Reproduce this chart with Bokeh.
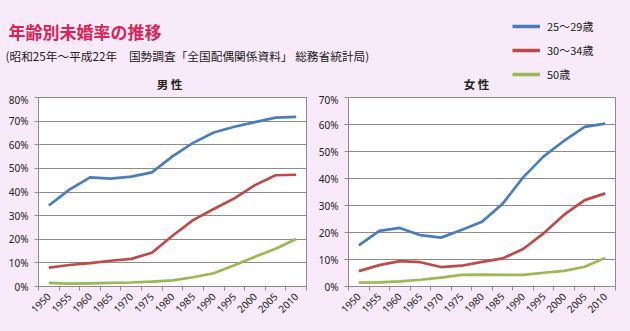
from bokeh.plotting import figure
from bokeh.models import (Range1d, FixedTicker, NumeralTickFormatter, Label,
                          Legend, LegendItem, ColumnDataSource)
from bokeh.layouts import column, row
from bokeh.embed import file_html
from bokeh.resources import INLINE
import math

# ---------------- data ----------------
years = [1950, 1955, 1960, 1965, 1970, 1975, 1980, 1985, 1990, 1995, 2000, 2005, 2010]
series_labels = ["25～29歳", "30～34歳", "50歳"]

male_25_29 = [34.3, 41.0, 46.2, 45.7, 46.5, 48.3, 55.1, 60.8, 65.2, 67.6, 69.6, 71.5, 71.8]
male_30_34 = [8.0, 9.1, 9.9, 10.9, 11.7, 14.3, 21.5, 28.1, 32.8, 37.3, 42.9, 47.1, 47.3]
male_50 = [1.5, 1.2, 1.3, 1.5, 1.7, 2.1, 2.6, 3.9, 5.6, 9.0, 12.6, 16.0, 20.1]

female_25_29 = [15.2, 20.6, 21.7, 19.0, 18.1, 20.9, 24.0, 30.6, 40.4, 48.2, 54.0, 59.1, 60.3]
female_30_34 = [5.7, 7.9, 9.4, 9.0, 7.2, 7.7, 9.1, 10.4, 13.9, 19.7, 26.6, 32.0, 34.5]
female_50 = [1.4, 1.5, 1.9, 2.5, 3.3, 4.3, 4.4, 4.3, 4.3, 5.1, 5.8, 7.3, 10.6]

male_yticks = [0, 0.1, 0.2, 0.3, 0.4, 0.5, 0.6, 0.7, 0.8]
female_yticks = [0, 0.1, 0.2, 0.3, 0.4, 0.5, 0.6, 0.7]

title_text = "年齢別未婚率の推移"
subtitle_text = "(昭和25年～平成22年　国勢調査「全国配偶関係資料」 総務省統計局)"
male_title = "男 性"
female_title = "女 性"

# ---------------- style ----------------
BG = "#F8EAF8"
GRID = "#8C8C8C"
COLORS = ["#4A7EBB", "#BE4B48", "#98B954"]
JP = "Noto Sans CJK JP"
TICKFONT = "Noto Sans"
HEADER_H = 92

# ---------------- header (title, subtitle, legend, panel titles) ----------------
header = figure(width=630, height=HEADER_H, x_range=Range1d(0, 630), y_range=Range1d(0, HEADER_H),
                toolbar_location=None, output_backend="svg",
                x_axis_location=None, y_axis_location=None, min_border=0)
header.background_fill_color = BG
header.border_fill_color = BG
header.outline_line_color = None
header.grid.visible = False

header.add_layout(Label(x=8, y=HEADER_H - 31, x_units="screen", y_units="screen",
                        text=title_text, text_font=JP, text_font_size="17px",
                        text_font_style="bold", text_color="#DC2257",
                        text_baseline="middle"))
header.add_layout(Label(x=5, y=HEADER_H - 55, x_units="screen", y_units="screen",
                        text=subtitle_text, text_font=JP, text_font_size="11.7px",
                        text_color="#222222", text_baseline="middle"))
for t, cx in [(male_title, 169), (female_title, 476)]:
    header.add_layout(Label(x=cx, y=HEADER_H - 83.8, x_units="screen", y_units="screen",
                            text=t, text_font=JP, text_font_size="11.5px",
                            text_font_style="bold", text_color="#222222",
                            text_align="center", text_baseline="middle"))

items = []
for lab, col in zip(series_labels, COLORS):
    # legend key only: a renderer with a single undefined point (draws nothing)
    r = header.line(x=[float("nan")], y=[float("nan")], line_color=col, line_width=3.5)
    items.append(LegendItem(label=lab, renderers=[r]))
legend = Legend(items=items, location=(512, HEADER_H - 82.0), orientation="vertical",
                glyph_width=28, glyph_height=16, label_height=16, spacing=8,
                label_standoff=7, padding=0, margin=0, border_line_color=None,
                background_fill_alpha=0, label_text_font=JP, label_text_font_size="11px",
                label_text_color="#222222")
header.add_layout(legend)


def make_panel(yticks, ymax, s1, s2, s3, left, right, fw):
    top = 97 - HEADER_H
    xs = [y - 2.5 for y in years] + [years[-1] + 2.5]
    p = figure(frame_width=fw, frame_height=189,
               min_border_left=left, min_border_right=right,
               min_border_top=top, min_border_bottom=45,
               x_range=Range1d(years[0] - 2.5, years[-1] + 2.5),
               y_range=Range1d(0, ymax),
               toolbar_location=None, output_backend="svg")
    p.background_fill_color = "white"
    p.border_fill_color = BG
    p.outline_line_color = GRID
    p.outline_line_width = 1
    p.xgrid.visible = False
    p.ygrid.grid_line_color = GRID
    p.ygrid.grid_line_width = 1

    p.yaxis.ticker = FixedTicker(ticks=yticks)
    p.yaxis.formatter = NumeralTickFormatter(format="0%")
    p.yaxis.axis_line_color = GRID
    p.yaxis.major_tick_line_color = GRID
    p.yaxis.major_tick_out = 4
    p.yaxis.major_tick_in = 0
    p.yaxis.minor_tick_line_color = None
    p.yaxis.major_label_standoff = 6
    p.yaxis.major_label_text_font = TICKFONT
    p.yaxis.major_label_text_font_size = "10px"
    p.yaxis.major_label_text_color = "#222222"

    p.xaxis.ticker = FixedTicker(ticks=years, minor_ticks=xs)
    p.xaxis.major_label_overrides = {y: str(y) for y in years}
    p.xaxis.axis_line_color = GRID
    p.xaxis.major_tick_line_color = None
    p.xaxis.major_tick_out = 0
    p.xaxis.major_tick_in = 0
    p.xaxis.minor_tick_line_color = GRID
    p.xaxis.minor_tick_out = 4
    p.xaxis.minor_tick_in = 0
    p.xaxis.major_label_orientation = math.pi / 4
    p.xaxis.major_label_standoff = 4
    p.xaxis.major_label_text_font = TICKFONT
    p.xaxis.major_label_text_font_size = "10px"
    p.xaxis.major_label_text_color = "#222222"

    for s, col in zip([s1, s2, s3], COLORS):
        src = ColumnDataSource(dict(x=years, y=[v / 100 for v in s]))
        p.line("x", "y", source=src, line_color=col, line_width=2.7, line_join="round")
    return p


p1 = make_panel(male_yticks, 0.8, male_25_29, male_30_34, male_50, 38, 9, 268)
p2 = make_panel(female_yticks, 0.7, female_25_29, female_30_34, female_50, 33, 15, 267)

layout = column(header, row(p1, p2, spacing=0), spacing=0)
layout.styles = {"background-color": BG}

open("out.html", "w").write(file_html(layout, INLINE))
